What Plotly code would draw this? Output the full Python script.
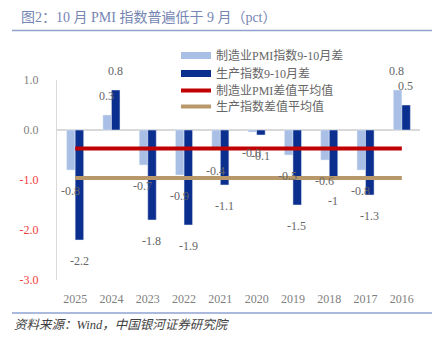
import plotly.graph_objects as go

years = ["2025", "2024", "2023", "2022", "2021", "2020", "2019", "2018", "2017", "2016"]
pmi_diff = [-0.8, 0.3, -0.7, -0.9, -0.4, -0.04, -0.5, -0.6, -0.8, 0.8]
prod_diff = [-2.2, 0.8, -1.8, -1.9, -1.1, -0.1, -1.5, -1.0, -1.3, 0.5]
pmi_avg = -0.37
prod_avg = -0.96
y_ticks = [1.0, 0.0, -1.0, -2.0, -3.0]

names = ["制造业PMI指数9-10月差", "生产指数9-10月差", "制造业PMI差值平均值", "生产指数差值平均值"]
c_light = "#a9bfe5"
c_dark = "#0b2f8e"
c_red = "#c00000"
c_tan = "#b8986a"

num_font = "Liberation Serif, Noto Sans CJK SC"


def fmt(v):
    s = f"{v:.1f}"
    if abs(v) >= 1 and s.endswith(".0"):
        s = s[:-2]
    return s


L, R, T, B = 57, 25, 80, 58
W, H = 445, 338
pw, ph = W - L - R, H - T - B

fig = go.Figure()
fig.add_trace(go.Bar(x=years, y=pmi_diff, marker_color=c_light, showlegend=False, name=names[0]))
fig.add_trace(go.Bar(x=years, y=prod_diff, marker_color=c_dark, showlegend=False, name=names[1]))
fig.add_trace(go.Scatter(x=years, y=[pmi_avg] * len(years), mode="lines",
                         line=dict(color=c_red, width=4), showlegend=False, name=names[2]))
fig.add_trace(go.Scatter(x=years, y=[prod_avg] * len(years), mode="lines",
                         line=dict(color=c_tan, width=4), showlegend=False, name=names[3]))

# legend entries, one legend per row for exact spacing
legend_rows = [54, 72, 89, 105]
legend_layout = {}
for k, (nm, col, yc) in enumerate(zip(names, [c_light, c_dark, c_red, c_tan], legend_rows)):
    w = 7 if col in (c_light, c_dark) else 4
    lg = "legend" if k == 0 else f"legend{k + 1}"
    fig.add_trace(go.Scatter(x=[years[0]], y=[None], mode="lines", name=nm, legend=lg,
                             line=dict(color=col, width=w), showlegend=True))
    legend_layout[lg] = dict(x=(176 - L) / pw, y=(H - B - (yc - 13)) / ph,
                             xanchor="left", yanchor="top",
                             font=dict(family=num_font, size=12, color="#666666"),
                             bgcolor="rgba(0,0,0,0)", itemwidth=30)

ann = []
for series, shift in ((pmi_diff, -5), (prod_diff, 4)):
    for i, v in enumerate(series):
        ann.append(dict(x=i, y=v, xref="x", yref="y", text=fmt(v), showarrow=False,
                        xshift=shift, yshift=(-12 if v < 0 else 10),
                        yanchor=("top" if v < 0 else "bottom"),
                        font=dict(family=num_font, size=12, color="#666666")))

ann.append(dict(x=(19 - L) / pw, y=(H - B - 18) / ph, xref="paper", yref="paper",
                text="图2：10 月 PMI 指数普遍低于 9 月（pct）",
                showarrow=False, xanchor="left", yanchor="middle",
                font=dict(family=num_font, size=14, color="#7585b3")))
ann.append(dict(x=(12 - L) / pw, y=(H - B - 325) / ph, xref="paper", yref="paper",
                text="<i>资料来源：Wind，中国银河证券研究院</i>",
                showarrow=False, xanchor="left", yanchor="middle",
                font=dict(family=num_font, size=12.5, color="#404040")))

shapes = []
for yy in (30.5, 313):
    shapes.append(dict(type="line", xref="paper", yref="paper",
                       x0=(12 - L) / pw, x1=(432 - L) / pw,
                       y0=(H - B - yy) / ph, y1=(H - B - yy) / ph,
                       line=dict(color="#8ea2d0", width=1.5)))

tick_text = []
for t in y_ticks:
    s = f"{t:.1f}"
    if t < 0:
        s = f'<span style="color:#f03c3c">{s}</span>'
    tick_text.append(s)

fig.update_layout(
    width=W, height=H,
    margin=dict(l=L, r=R, t=T, b=B),
    paper_bgcolor="white", plot_bgcolor="white",
    barmode="group", bargap=0.53, bargroupgap=0,
    annotations=ann, shapes=shapes,
    xaxis=dict(type="category", categoryorder="array", categoryarray=years,
               range=[-0.5, len(years) - 0.5],
               showline=False, showgrid=False, ticks="",
               ticklabelstandoff=10,
               tickfont=dict(family=num_font, size=12, color="#808080")),
    yaxis=dict(range=[-3, 1], tickvals=y_ticks, ticktext=tick_text, showgrid=False,
               showline=True, linecolor="#d9d9d9", linewidth=1,
               zeroline=True, zerolinecolor="#d9d9d9", zerolinewidth=1.5,
               ticks="", ticklabelstandoff=15,
               tickfont=dict(family=num_font, size=12, color="#808080")),
    **legend_layout,
)

fig.write_html("out.html")
